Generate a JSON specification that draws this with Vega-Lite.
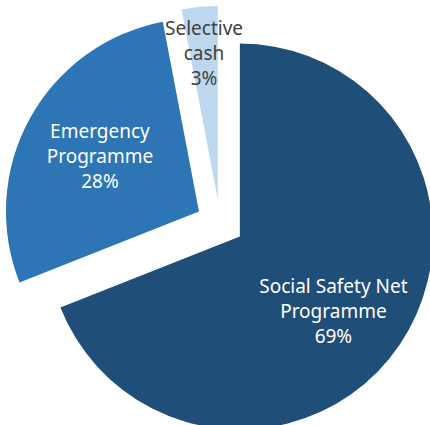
{
  "$schema": "https://vega.github.io/schema/vega-lite/v6.json",
  "width": 430,
  "height": 425,
  "autosize": {"type": "none"},
  "padding": 0,
  "background": "white",
  "config": {"view": {"stroke": null}},
  "data": {
    "values": [
      {"order": 1, "programme": "Social Safety Net Programme", "share": 69},
      {"order": 2, "programme": "Emergency Programme", "share": 28},
      {"order": 3, "programme": "Selective cash", "share": 3}
    ]
  },
  "transform": [
    {"window": [{"op": "sum", "field": "share", "as": "end"}], "sort": [{"field": "order"}], "frame": [null, 0]},
    {"calculate": "datum.end - datum.share", "as": "start"},
    {"calculate": "(datum.start + datum.end) / 100 * PI", "as": "mid"},
    {"calculate": "24 * sin(datum.mid)", "as": "cx"},
    {"calculate": "24 * cos(datum.mid)", "as": "cy"},
    {"calculate": "datum.share < 5 ? 146 : (datum.share > 50 ? 120 : 113)", "as": "lr"},
    {"calculate": "datum.mid + (datum.share > 50 ? 0.08 : 0)", "as": "lmid"},
    {"calculate": "datum.cx + datum.lr * sin(datum.lmid)", "as": "lx"},
    {"calculate": "datum.cy + datum.lr * cos(datum.lmid)", "as": "ly"},
    {"calculate": "replace(datum.programme, regexp(' (\\\\S+)$'), '\\n$1') + '\\n' + datum.share + '%'", "as": "label"}
  ],
  "layer": [
    {
      "mark": {"type": "arc", "outerRadius": 193, "clip": true},
      "encoding": {
        "x": {"field": "cx", "type": "quantitative", "scale": {"domain": [-220, 210], "nice": false, "zero": false}, "axis": null},
        "y": {"field": "cy", "type": "quantitative", "scale": {"domain": [-202, 223], "nice": false, "zero": false}, "axis": null},
        "theta": {"field": "start", "type": "quantitative", "stack": null, "scale": {"domain": [0, 100], "range": [0, 6.283185307179586]}},
        "theta2": {"field": "end"},
        "color": {
          "field": "programme",
          "type": "nominal",
          "scale": {
            "domain": ["Social Safety Net Programme", "Emergency Programme", "Selective cash"],
            "range": ["#1f4e79", "#2e75b6", "#bdd7ee"]
          },
          "legend": null
        }
      }
    },
    {
      "mark": {"type": "text", "font": "Noto Sans", "fontSize": 19, "lineHeight": 25, "lineBreak": "\n", "align": "center", "baseline": "middle", "dy": -25},
      "encoding": {
        "x": {"field": "lx", "type": "quantitative", "axis": null},
        "y": {"field": "ly", "type": "quantitative", "axis": null},
        "text": {"field": "label"},
        "color": {"condition": {"test": "datum.share < 5", "value": "#404040"}, "value": "white"}
      }
    }
  ]
}
